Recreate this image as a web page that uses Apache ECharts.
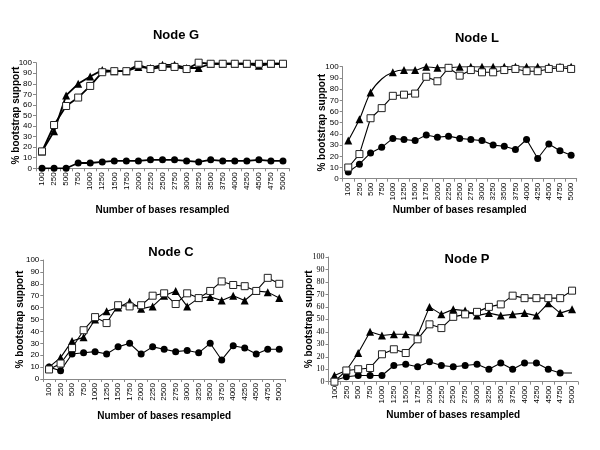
<!DOCTYPE html>
<html><head><meta charset="utf-8">
<script src="https://cdn.jsdelivr.net/npm/echarts@6/dist/echarts.min.js"></script>
<style>html,body{margin:0;padding:0;background:#fff}#c{width:600px;height:450px}</style>
</head><body><div id="c"></div>
<script>
const categories = ['100','250','500','750','1000','1250','1500','1750','2000','2250','2500','2750','3000','3250','3500','3750','4000','4250','4500','4750','5000'];
const yTicks = [0,10,20,30,40,50,60,70,80,90,100];

// Node G
const G_tri  = [16,35,69,80,87,93,92,92,96,95,98,98,95,95,99,99,99,99,97,99,99];
const G_sq   = [16,41,59,67,78,91,92,92,98,94,96,96,94,100,99,99,99,99,99,99,99];
const G_circ = [0,0,0,5,5,6,7,7,7,8,8,8,7,6,8,7,7,7,8,7,7];
// Node L
const L_tri  = [34,53,77,89,95,97,97,100,99,99,100,100,100,100,100,100,100,100,100,100,100];
const L_sq   = [10,22,54,63,74,75,76,91,87,99,92,97,95,95,97,98,96,96,98,99,98];
const L_circ = [6,13,23,28,36,35,34,39,37,38,36,35,34,30,29,26,35,18,31,25,21];
// Node C
const C_tri  = [10,18,32,35,50,57,60,65,59,61,70,74,61,68,69,66,70,66,74,73,68];
const C_sq   = [8,13,26,41,52,47,62,61,62,70,72,63,72,68,74,82,79,78,74,85,80];
const C_circ = [10,7,21,22,23,21,27,30,21,27,25,23,24,22,30,16,28,26,21,25,25];
// Node P
const P_tri  = [5,9,23,40,37,38,38,37,60,54,58,57,53,55,53,54,55,53,63,55,58];
const P_sq   = [0,9,10,11,22,26,23,34,46,43,52,54,56,60,62,69,67,67,67,67,73];
const P_circ = [1,4,5,5,5,13,14,12,16,13,12,13,14,10,15,10,15,15,10,7,7];

const titles = ['Node G','Node L','Node C','Node P'];
const noMarker = { 'L_tri': [3], 'P_circ': [20] };

const panels = [
  {tri:G_tri, sq:G_sq, circ:G_circ, key:'G', grid:{left:36,top:62.7,width:253,height:105.6}, title:[171,24], lw:1.8, yFont:'Liberation Sans', xGap:37, yGap:15},
  {tri:L_tri, sq:L_sq, circ:L_circ, key:'L', grid:{left:342.7,top:66.7,width:234,height:112}, title:[472,27], lw:1.1, yFont:'Liberation Sans', xGap:27, yGap:15},
  {tri:C_tri, sq:C_sq, circ:C_circ, key:'C', grid:{left:43.3,top:260,width:241.7,height:119}, title:[166,241], lw:1.1, yFont:'Liberation Sans', xGap:32, yGap:18},
  {tri:P_tri, sq:P_sq, circ:P_circ, key:'P', grid:{left:328.5,top:257,width:249.5,height:124.7}, title:[462,248], lw:1.1, yFont:'Liberation Serif', xGap:29, yGap:14}
];

const grids=[], xAxes=[], yAxes=[], series=[], titleOpts=[];
panels.forEach((p,i)=>{
  grids.push(p.grid);
  titleOpts.push({text:titles[i], left:p.title[0], top:p.title[1], textAlign:'center',
    textStyle:{fontFamily:'Liberation Sans', fontWeight:'bold', fontSize:13, color:'#000'}});
  xAxes.push({type:'category', gridIndex:i, data:categories, boundaryGap:true,
    name:'Number of bases resampled', nameLocation:'middle', nameGap:p.xGap,
    nameTextStyle:{fontFamily:'Liberation Sans', fontWeight:'bold', fontSize:10, color:'#000'},
    axisLine:{lineStyle:{color:'#888', width:1}},
    axisTick:{show:true, length:3, lineStyle:{color:'#888'}},
    axisLabel:{rotate:90, interval:0, fontFamily:'Liberation Sans', fontSize:8, color:'#000', margin:4}});
  yAxes.push({type:'value', gridIndex:i, min:0, max:100, interval:10,
    name:'% bootstrap support', nameLocation:'middle', nameGap:p.yGap, nameRotate:90, nameMoveOverlap:false,
    nameTextStyle:{fontFamily:'Liberation Sans', fontWeight:'bold', fontSize:10, color:'#000'},
    splitLine:{show:false},
    axisLine:{show:true, lineStyle:{color:'#888', width:1}},
    axisTick:{show:true, length:3, lineStyle:{color:'#888'}},
    axisLabel:{fontFamily:p.yFont, fontSize:8, color:'#000', margin:4}});
  const mk = (arr, name) => arr.map((v,j)=> (noMarker[name]||[]).includes(j) ? {value:v, symbol:'none'} : v);
  series.push({type:'line', xAxisIndex:i, yAxisIndex:i, data:mk(p.circ, p.key+'_circ'), symbol:'circle', symbolSize:7,
    itemStyle:{color:'#000'}, lineStyle:{color:'#000', width:p.lw}, animation:false, z:2});
  series.push({type:'line', xAxisIndex:i, yAxisIndex:i, data:mk(p.tri, p.key+'_tri'), symbol:'triangle', symbolSize:8,
    smooth: p.key==='L' ? 0.35 : false,
    itemStyle:{color:'#000'}, lineStyle:{color:'#000', width:p.lw}, animation:false, z:3});
  series.push({type:'line', xAxisIndex:i, yAxisIndex:i, data:mk(p.sq, p.key+'_sq'), symbol:'rect', symbolSize:7,
    itemStyle:{color:'#fff', borderColor:'#222', borderWidth:1}, lineStyle:{color:'#000', width:p.lw}, animation:false, z:4});
});

const chart = echarts.init(document.getElementById('c'), null, {renderer:'canvas'});
chart.setOption({backgroundColor:'#fff', animation:false, title:titleOpts, grid:grids, xAxis:xAxes, yAxis:yAxes, series:series});
</script></body></html>
